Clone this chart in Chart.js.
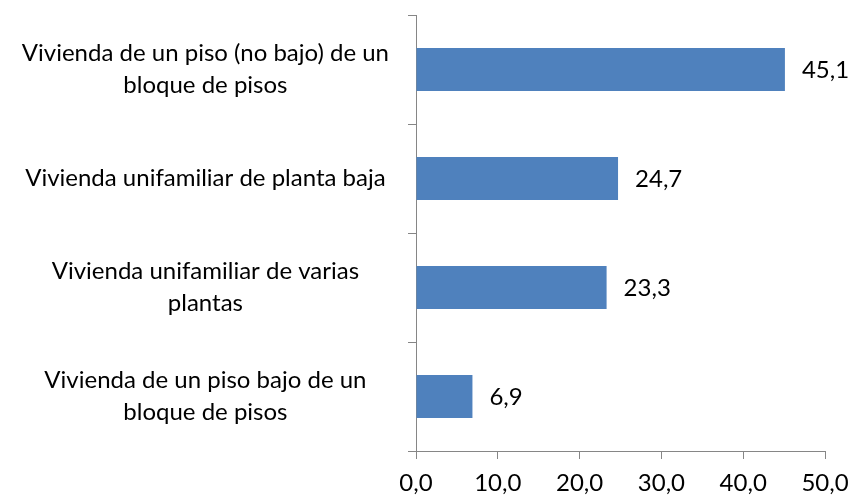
<!DOCTYPE html>
<html>
<head>
    <title>Tipo de vivienda</title>
    <style>
        body { margin: 0; padding: 0; background: #fff; }
        #chartContainer { width: 850px; height: 495px; }
    </style>
    <script src="https://cdn.jsdelivr.net/npm/chart.js"></script>
</head>
<body>

    <div id="chartContainer">
        <canvas id="myBarChart"></canvas>
    </div>

    <script>
        const categories = [
            ['Vivienda de un piso (no bajo) de un', 'bloque de pisos'],
            'Vivienda unifamiliar de planta baja',
            ['Vivienda unifamiliar de varias', 'plantas'],
            ['Vivienda de un piso bajo de un', 'bloque de pisos']
        ];
        const percentages = [45.1, 24.7, 23.3, 6.9];
        const xTicks = [0, 10, 20, 30, 40, 50];

        const fontSpec = { family: 'Lato, "Open Sans", sans-serif', size: 24, lineHeight: 1.33 };
        const axisGray = '#868686';
        const fmt = v => v.toFixed(1).replace('.', ',');

        // value text to the right of each bar
        const valueLabels = {
            id: 'valueLabels',
            afterDatasetsDraw(chart) {
                const ctx = chart.ctx;
                const meta = chart.getDatasetMeta(0);
                ctx.save();
                ctx.font = `${fontSpec.size}px ${fontSpec.family}`;
                ctx.fillStyle = '#000';
                ctx.textAlign = 'left';
                ctx.textBaseline = 'middle';
                meta.data.forEach((bar, i) => {
                    ctx.fillText(fmt(percentages[i]), bar.x + 17, bar.y + 1);
                });
                ctx.restore();
            }
        };

        const ctx = document.getElementById('myBarChart').getContext('2d');
        new Chart(ctx, {
            type: 'bar',
            data: {
                labels: categories,
                datasets: [{
                    data: percentages,
                    backgroundColor: '#4f81bd',
                    borderWidth: 0,
                    categoryPercentage: 1,
                    barPercentage: 0.395
                }]
            },
            plugins: [valueLabels],
            options: {
                indexAxis: 'y',
                responsive: true,
                maintainAspectRatio: false,
                animation: false,
                layout: { padding: { top: 15, left: 0, right: 25, bottom: 0 } },
                plugins: {
                    legend: { display: false },
                    tooltip: { enabled: false }
                },
                scales: {
                    x: {
                        min: 0,
                        max: 50,
                        afterBuildTicks: axis => { axis.ticks = xTicks.map(v => ({ value: v })); },
                        afterFit: axis => {
                            axis.height = 44;
                            axis.paddingLeft = 0;
                            axis.paddingRight = 0;
                        },
                        ticks: {
                            color: '#000',
                            font: fontSpec,
                            padding: 8,
                            maxRotation: 0,
                            callback: v => fmt(v)
                        },
                        grid: {
                            drawOnChartArea: false,
                            drawTicks: true,
                            tickLength: 8,
                            color: axisGray
                        },
                        border: { color: axisGray, width: 1 }
                    },
                    y: {
                        afterFit: axis => {
                            axis.width = 416;
                            axis.paddingTop = 0;
                            axis.paddingBottom = 0;
                        },
                        ticks: {
                            color: '#000',
                            font: fontSpec,
                            padding: 19,
                            crossAlign: 'center'
                        },
                        grid: {
                            drawOnChartArea: false,
                            drawTicks: true,
                            tickLength: 8,
                            color: axisGray
                        },
                        border: { color: axisGray, width: 1 }
                    }
                }
            }
        });
    </script>

</body>
</html>
